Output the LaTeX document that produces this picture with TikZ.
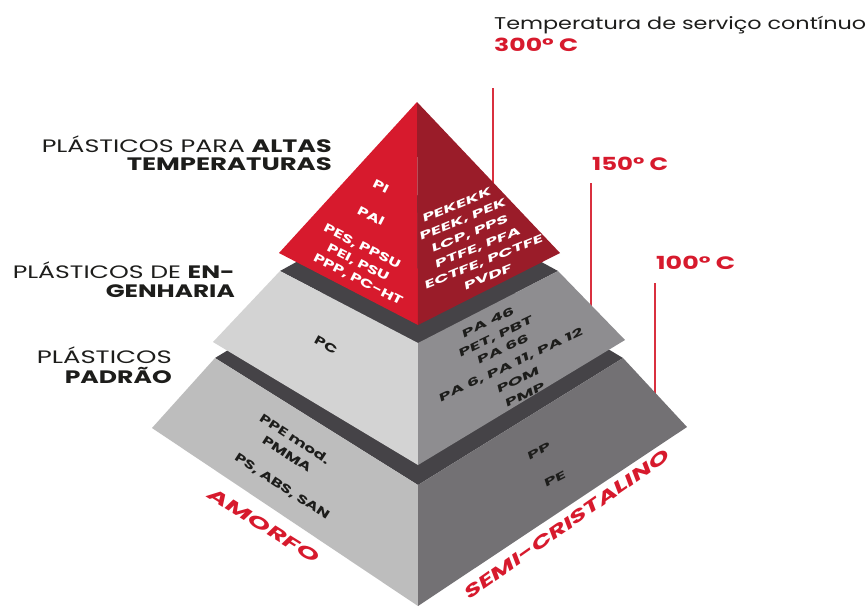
\documentclass[tikz,border=0pt]{standalone}
\usepackage{fontspec}
\setmainfont{Poppins}
\usepackage{graphicx}
\definecolor{redL}{HTML}{D71A2D}
\definecolor{redR}{HTML}{9A1C29}
\definecolor{topD}{HTML}{454347}
\definecolor{midL}{HTML}{D3D3D3}
\definecolor{midR}{HTML}{8E8D90}
\definecolor{botL}{HTML}{BDBDBD}
\definecolor{botR}{HTML}{737174}
\definecolor{ink}{HTML}{1D1D1B}
\definecolor{lineR}{HTML}{D9303F}
\newcommand\fitw[2]{\resizebox{#1}{\height}{#2}}
\newcommand\ext[1]{\scalebox{1.45}[1]{#1}}
\begin{document}
\begin{tikzpicture}[x=1pt,y=-1pt,
  lbl/.style={inner sep=0pt, text=ink, font=\fontsize{18}{20}\selectfont},
  temp/.style={inner sep=0pt, text=redL, font=\bfseries\fontsize{18}{20}\selectfont},
  tline/.style={draw=lineR, line width=1.4pt},
  fl/.style={inner sep=0pt, text=white, font=\bfseries\fontsize{12}{13}\selectfont},
  fr/.style={fl, xslant=0.3},
  gl/.style={inner sep=0pt, text=ink, font=\bfseries\fontsize{12}{13}\selectfont},
  gr/.style={gl, xslant=0.3},
  big/.style={inner sep=0pt, text=redL, font=\bfseries\fontsize{17}{18}\selectfont}]
\useasboundingbox (0,0) rectangle (868,606);
\fill[white] (0,0) rectangle (868,606);
% temperature lines
\coordinate (t1a) at (493,88);  \coordinate (t1b) at (493,184);
\coordinate (t2a) at (591,183); \coordinate (t2b) at (591,307);
\coordinate (t3a) at (655,283); \coordinate (t3b) at (655,395);
\draw[tline] (t1a) -- (t1b);
\draw[tline] (t2a) -- (t2b);
\draw[tline] (t3a) -- (t3b);
% bottom layer
\fill[topD] (215,358) -- (418,485) -- (623,358) -- (418,235) -- cycle;
\fill[botL] (215,358) -- (418,485) -- (418,606) -- (152,428) -- cycle;
\fill[botR] (418,485) -- (623,358) -- (687,427) -- (418,606) -- cycle;
% middle layer
\fill[topD] (280,271) -- (418,343) -- (558,271) -- (418,195) -- cycle;
\fill[midL] (280,271) -- (418,343) -- (418,465) -- (213,342) -- cycle;
\fill[midR] (418,343) -- (558,271) -- (625,340) -- (418,465) -- cycle;
% top pyramid
\fill[redL] (417,102) -- (279,253) -- (418,325) -- cycle;
\fill[redR] (417,102) -- (418,325) -- (560,253) -- cycle;
% left labels
\node[lbl, anchor=base east] (l1a) at (332,152) {\fitw{290pt}{PLÁSTICOS PARA \textbf{ALTAS}}};
\node[lbl, anchor=base east] (l1b) at (332,170) {\fitw{205pt}{\textbf{TEMPERATURAS}}};
\node[lbl, anchor=base east] (l2a) at (235,278) {\fitw{222pt}{PLÁSTICOS DE \textbf{EN-}}};
\node[lbl, anchor=base east] (l2b) at (235,297) {\fitw{129pt}{\textbf{GENHARIA}}};
\node[lbl, anchor=base east] (l3a) at (172,363) {\fitw{135pt}{PLÁSTICOS}};
\node[lbl, anchor=base east] (l3b) at (172,383) {\fitw{107pt}{\textbf{PADRÃO}}};
% temperature labels
\node[lbl, anchor=base west, font=\fontsize{17}{19}\selectfont] (tt) at (494,29) {\fitw{372pt}{Temperatura de serviço contínuo}};
\node[temp, anchor=base west] (c300) at (494,51) {\fitw{84pt}{300° C}};
\node[temp, anchor=base west] (c150) at (592,170) {\fitw{76pt}{150° C}};
\node[temp, anchor=base west] (c100) at (656,269) {\fitw{79pt}{100° C}};
% red left face
\node[fl, rotate=-27] (pi) at (381,186) {\ext{PI}};
\node[fl, rotate=-27] (pai) at (371,216) {\ext{PAI}};
\node[fl, rotate=-27] (pes) at (362,247) {\ext{PES, PPSU}};
\node[fl, rotate=-27] (pei) at (358,263) {\ext{PEI, PSU}};
\node[fl, rotate=-27] (ppp) at (358,280) {\ext{PPP, PC-HT}};
% red right face
\node[fr, rotate=25] (pekekk) at (457,205) {\ext{PEKEKK}};
\node[fr, rotate=25] (peek) at (463,220) {\ext{PEEK, PEK}};
\node[fr, rotate=25] (lcp) at (470,234) {\ext{LCP, PPS}};
\node[fr, rotate=25] (ptfe) at (478,248) {\ext{PTFE, PFA}};
\node[fr, rotate=25] (ectfe) at (484,262) {\ext{ECTFE, PCTFE}};
\node[fr, rotate=25] (pvdf) at (488,277) {\ext{PVDF}};
% middle faces
\node[gl, rotate=-29] (pc) at (326,345) {\ext{PC}};
\node[gr, rotate=29] (pa46) at (488,322) {\ext{PA 46}};
\node[gr, rotate=29] (pet) at (496,337) {\ext{PET, PBT}};
\node[gr, rotate=29] (pa66) at (503,349) {\ext{PA 66}};
\node[gr, rotate=29] (pa6) at (511,365) {\ext{PA 6, PA 11, PA 12}};
\node[gr, rotate=29] (pom) at (518,380) {\ext{POM}};
\node[gr, rotate=29] (pmp) at (525,395) {\ext{PMP}};
% bottom faces
\node[gl, rotate=-33] (ppe) at (295,439) {\ext{PPE mod.}};
\node[gl, rotate=-33] (pmma) at (287,454) {\ext{PMMA}};
\node[gl, rotate=-33] (ps) at (282,487) {\ext{PS, ABS, SAN}};
\node[gr, rotate=32] (pp) at (539,451) {\ext{PP}};
\node[gr, rotate=32] (pe) at (555,479) {\ext{PE}};
% category labels
\node[big, rotate=-32, xslant=0.25] (amorfo) at (264,526) {\fitw{127pt}{AMORFO}};
\node[big, rotate=35, xslant=0.25] (semi) at (567,524) {\fitw{247pt}{SEMI-CRISTALINO}};
\end{tikzpicture}
\end{document}
